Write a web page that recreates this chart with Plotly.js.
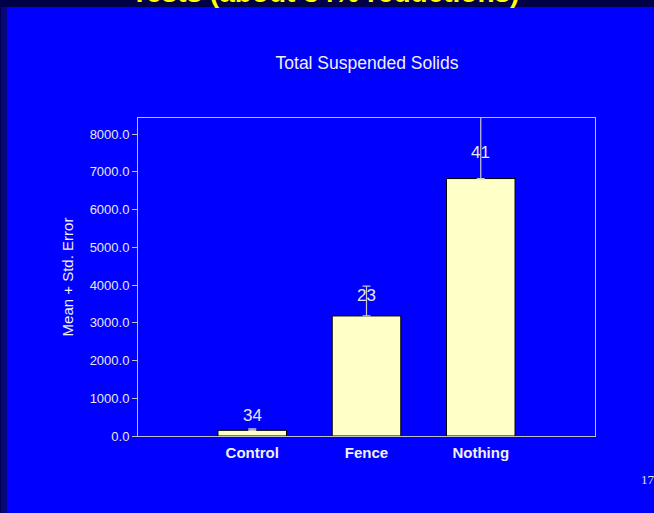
<!DOCTYPE html>
<html>
<head>
<meta charset="utf-8">
<script src="https://cdn.plot.ly/plotly-3.0.1.min.js"></script>
<style>html,body{margin:0;padding:0;background:#000048;overflow:hidden;}#chart{width:654px;height:513px;}</style>
</head>
<body>
<div id="chart"></div>
<script>
const categories = ["Control", "Fence", "Nothing"];
const means = [150, 3180, 6820];
const stdErrors = [40, 790, 2000];
const sampleSizes = ["34", "23", "41"];
const labelHeights = [530, 3735, 7500];
const slideTitle = "Tests (about 34% reductions)";
const chartTitle = "Total Suspended Solids";
const yTitle = "Mean + Std. Error";
const pageNumber = "17";

const trace = {
  type: "bar",
  x: categories,
  y: means,
  width: 0.6,
  marker: {color: "#FFFFC8", line: {color: "#000000", width: 1}},
  error_y: {type: "data", symmetric: false, array: stdErrors, arrayminus: [0,0,0],
            color: "#C8C8C8", thickness: 1.2, width: 4},
  hoverinfo: "none"
};

const annotations = categories.map((c, i) => ({
  x: c, y: labelHeights[i], xref: "x", yref: "y", text: sampleSizes[i],
  showarrow: false, font: {family: "Liberation Sans, Arial", size: 17, color: "#E8E8E8"}
}));
annotations.push({
  x: 0.409, y: 1.34, xref: "paper", yref: "paper", xanchor: "center", yanchor: "bottom",
  text: "<b>" + slideTitle + "</b>", showarrow: false,
  font: {family: "Liberation Sans, Arial", size: 28, color: "#FFFF00"}
});
annotations.push({
  x: (639 - 138) / 457, y: 1 - (479 - 118) / 318, xref: "paper", yref: "paper",
  xanchor: "left", yanchor: "middle", text: pageNumber, showarrow: false,
  font: {family: "Liberation Serif, Times New Roman", size: 13, color: "#E0E0E0"}
});

const layout = {
  width: 654, height: 513,
  margin: {l: 138, r: 59, t: 118, b: 77, pad: 0},
  paper_bgcolor: "#000048",
  plot_bgcolor: "rgba(0,0,0,0)",
  showlegend: false,
  title: {text: chartTitle, x: 367 / 654, xanchor: "center", y: 1 - 63 / 513, yanchor: "middle",
          font: {family: "Liberation Sans, Arial", size: 17.5, color: "#F0F0F0"}},
  xaxis: {range: [-1, 3], showgrid: false, zeroline: false, showline: true, mirror: true,
          linecolor: "#C0C0C0", linewidth: 1, ticks: "outside", ticklen: 3, tickcolor: "rgba(0,0,0,0)",
          tickfont: {family: "Liberation Sans, Arial", size: 15, color: "#F0F0F0", weight: "bold"}},
  yaxis: {range: [0, 8424], tickvals: [0,1000,2000,3000,4000,5000,6000,7000,8000], tickformat: ".1f",
          showgrid: false, zeroline: false, showline: true, mirror: true,
          linecolor: "#C0C0C0", linewidth: 1, ticks: "outside", ticklen: 5, tickcolor: "#C0C0C0",
          tickfont: {family: "Liberation Sans, Arial", size: 13, color: "#E8E8E8"},
          title: {text: yTitle, standoff: 12, font: {family: "Liberation Sans, Arial", size: 15, color: "#F0F0F0"}}},
  shapes: [
    {type: "rect", xref: "paper", yref: "paper", x0: -0.3, x1: 1.25, y0: -0.35, y1: 1.6,
     fillcolor: "#08087A", line: {width: 0}, layer: "below"},
    {type: "rect", xref: "paper", yref: "paper", x0: (7 - 138) / 457, x1: 1.25, y0: -0.35, y1: 1 - (7 - 118) / 318,
     fillcolor: "#0000FF", line: {width: 0}, layer: "below"},
    {type: "rect", xref: "paper", yref: "paper", x0: -0.3, x1: 1.25, y0: 1 - (7 - 118) / 318, y1: 1.6,
     fillcolor: "#000048", line: {width: 0}, layer: "below"}
  ],
  annotations: annotations
};

Plotly.newPlot("chart", [trace], layout, {displayModeBar: false, staticPlot: true});
</script>
</body>
</html>
